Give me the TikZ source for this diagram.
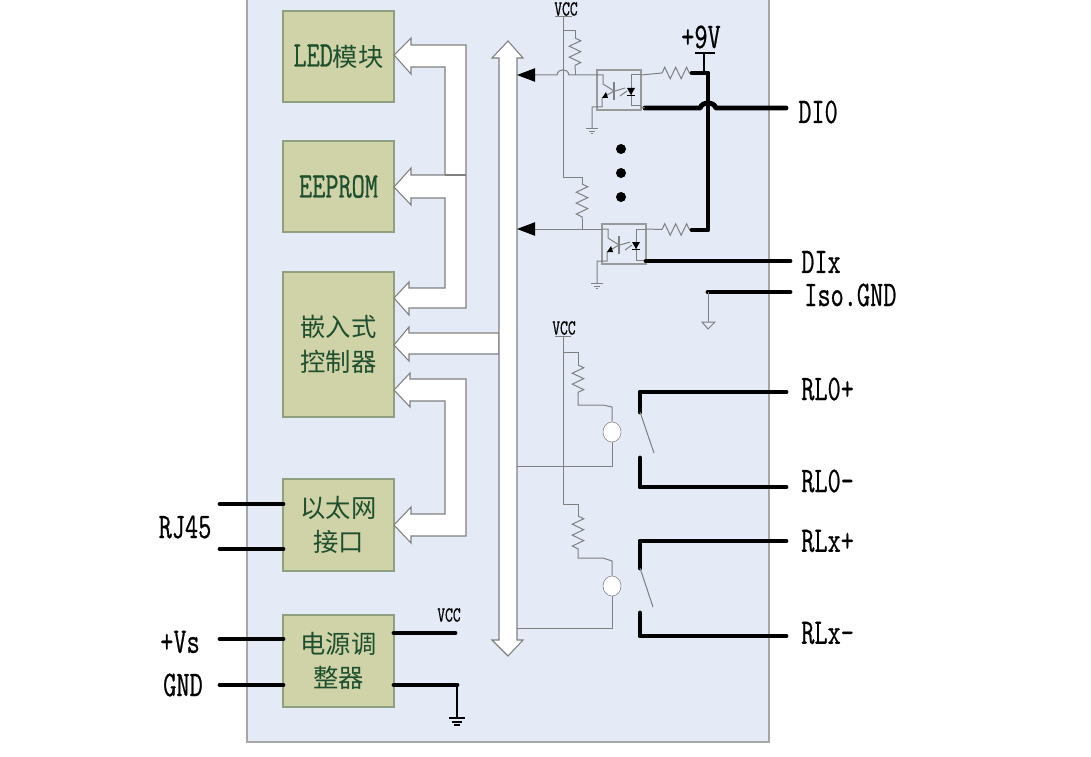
\documentclass[tikz,border=0pt]{standalone}
\usepackage{fontspec}
\setmainfont[FakeStretch=0.71,FakeBold=0.6]{Latin Modern Mono}
\newfontfamily\cjkfont{Noto Sans CJK SC}
\usetikzlibrary{arrows.meta,decorations.pathmorphing,shapes.geometric}
\definecolor{panelcol}{HTML}{E4EAF6}
\definecolor{blockcol}{HTML}{D0D2A8}
\definecolor{blockedge}{HTML}{8FA080}
\definecolor{textgreen}{HTML}{1E4F2E}
\definecolor{wirecol}{HTML}{808080}
\tikzset{
    block/.style={draw=blockedge, line width=0.8pt, fill=blockcol, text=textgreen, minimum width=83.25pt, align=center, inner sep=0pt, font=\fontsize{19}{26}\selectfont},
    wire/.style={draw=wirecol, line width=0.75pt},
    fatwire/.style={draw=black, line width=3.7pt, line cap=round, line join=round},
    busarrow/.style={draw=wirecol, line width=0.8pt, fill=white, line join=miter},
    res/.style={wire, decorate, decoration={zigzag, segment length=8.2pt, amplitude=4.3pt}},
    into/.style={-{Triangle[length=13.5pt, width=10pt, color=black, fill=black]}},
    coil/.style={draw=wirecol, fill=white, ellipse, minimum width=13.5pt, minimum height=15pt, inner sep=0pt},
    biglabel/.style={inner sep=0pt, font=\fontsize{27}{27}\selectfont},
    smalllabel/.style={inner sep=0pt, font=\fontsize{16}{16}\selectfont},
    optobox/.pic={
        \draw[draw=gray!80, line width=0.8pt] (0,0) rectangle (44,40);
        % phototransistor
        \draw[wire] (0,5) -- (6,5) -- (6,14) -- (17,21) -- (5,28) -- (5,37) -- (-5,37) -- (-5,59);
        \draw[wire, line width=1pt] (17,12) -- (17,30);
        \fill (5,28) -- (11,28) -- (9,22) -- cycle;
        % led
        \draw[wire] (44,5) -- (34,5) -- (34,36) -- (44,36);
        \fill (30,18) -- (38,18) -- (34,25) -- cycle;
        \draw[black, line width=0.7pt] (30,25) -- (38,25);
        \draw[wire] (28,18) -- (18,21) (30,21) -- (23,26);
        \draw[wire] (-11,59) -- (1,59) (-8,62) -- (-2,62) (-6,64) -- (-4,64);
        \coordinate (-c) at (0,5);
        \coordinate (-a) at (44,5);
        \coordinate (-k) at (44,37);
    },
}
\begin{document}
\begin{tikzpicture}[x=0.75pt, y=-0.75pt]
    \useasboundingbox (0,0) rectangle (1091,756);
    \draw[draw=gray!70, line width=0.9pt, fill=panelcol] (247,-10) rectangle (769,742);

    % Function blocks
    \node[block, minimum height=68.25pt] (led) at (338.5,56.5) {\fontsize{27}{27}\selectfont LED{\fontsize{19}{26}\selectfont\cjkfont 模块}};
    \node[block, minimum height=68.25pt] (eeprom) at (338.5,186.5) {\fontsize{27}{27}\selectfont EEPROM};
    \node[block, minimum height=108.75pt] (mcu) at (338.5,344.5) {\cjkfont 嵌入式\\ \cjkfont 控制器};
    \node[block, minimum height=69pt] (eth) at (338.5,525) {\cjkfont 以太网\\ \cjkfont 接口};
    \node[block, minimum height=69pt] (power) at (338.5,661) {\cjkfont 电源调\\ \cjkfont 整器};

    % Data paths
    \draw[busarrow] (394,55) -- (411,38) -- (411,45) -- (466,45) -- (466,308) -- (409,308) -- (409,315)
        -- (394,298) -- (409,282) -- (409,288) -- (445,288) -- (445,198) -- (411,198) -- (411,205)
        -- (394,187) -- (411,168) -- (411,175) -- (445,175) -- (445,67) -- (411,67) -- (411,74) -- cycle;
    \draw[busarrow] (445,175) -- (466,175);
    \draw[busarrow] (394,390) -- (410,373) -- (410,379) -- (466,379) -- (466,536) -- (411,536) -- (411,543)
        -- (394,525) -- (411,507) -- (411,514) -- (445,514) -- (445,401) -- (410,401) -- (410,407) -- cycle;
    \draw[busarrow] (394,345) -- (409,327) -- (409,333) -- (499,333) -- (499,354) -- (409,354) -- (409,361) -- cycle;
    \draw[busarrow] (508,41) -- (523,58) -- (517,58) -- (517,640) -- (523,640) -- (508,656) -- (492,640)
        -- (499,640) -- (499,58) -- (492,58) -- cycle;

    % Digital inputs
    \pic (optoa) at (597,70) {optobox};
    \pic (optob) at (602,224) {optobox};
    \coordinate (busa) at (517,75);
    \coordinate (busb) at (517,229);
    \coordinate (rail) at (708,73);
    \node[smalllabel] (vcca) at (566,9) {VCC};
    \draw[wire] (555,17) -- (572,17) (563,17) -- (563,177) -| (582,184);
    \draw[res] (582,184) -- (582,219);
    \draw[wire] (582,219) -- (582,229);
    \draw[wire] (563,31) -| (575,38);
    \draw[res] (575,38) -- (575,70);
    \draw[wire] (575,70) -- (575,75);
    \draw[wire, into] (optoa-c) -- (569,75) .. controls (568,68) and (558,68) .. (557,75) -- (busa);
    \draw[wire, into] (optob-c) -- (busb);
    \draw[wire] (optoa-a) -- (662,73);
    \draw[res] (662,73) -- (692,73);
    \draw[wire] (optob-a) -- (662,229.5);
    \draw[res] (662,229.5) -- (692,229.5);
    \draw[fatwire] (692,73) -- (rail) -- (708,230) -- (692,230);
    \draw[black, line width=1.6pt] (695,53) -- (715,53) (704,53) -- (704,72);
    \coordinate (dioin) at (645,108);
    \draw[fatwire] (dioin) -- (700,108) .. controls (703,101) and (713,101) .. (716,108) -- (786,108);
    \draw[wire] (optoa-k) -- (dioin);
    \draw[fatwire] (optob-k) -- (790,261);
    \fill (621,149) circle (5) (621,173) circle (5) (621,197) circle (5);
    \node[biglabel] (plusnine) at (701,37) {+9V};
    \node[biglabel, anchor=west] (dio) at (798,112) {DI0};
    \node[biglabel, anchor=west] (dix) at (801,262) {DIx};
    \node[biglabel, anchor=west] (isognd) at (804,295) {Iso.GND};
    \draw[fatwire] (708,292) -- (790,292);
    \draw[wire] (708,292) -- (708,322);
    \draw[wire, fill=panelcol] (702,322) -- (715,322) -- (708,329) -- cycle;

    % Relay outputs
    \node[smalllabel] (vccb) at (564,328) {VCC};
    \draw[wire] (555,336) -- (571,336) (563,336) -- (563,504) -| (578,516);
    \draw[wire] (563,352) -| (578,365);
    \draw[res] (578,365) -- (578,395);
    \node[coil] (coila) at (612,432) {};
    \node[coil] (coilb) at (612,586) {};
    \draw[wire] (578,395) -- (578,405) -- (603,405) -- (612,407) -- (coila);
    \draw[res] (578,516) -- (578,549);
    \draw[wire] (578,549) -- (578,558) -- (603,558) -- (612,561) -- (coilb);
    \draw[wire] (coila) |- (517,466);
    \draw[wire] (coilb) |- (517,628);
    \draw[fatwire] (786,392) -- (640,392) -- (640,412);
    \draw[fatwire] (640,458) -- (640,487) -- (786,487);
    \draw[wire] (640,412) -- (654,453);
    \draw[fatwire] (786,541) -- (640,541) -- (640,568);
    \draw[fatwire] (640,613) -- (640,636) -- (786,636);
    \draw[wire] (640,568) -- (653,607);
    \node[biglabel, anchor=west] (rlop) at (801,389) {RL0+};
    \node[biglabel, anchor=west] (rlon) at (801,481) {RL0-};
    \node[biglabel, anchor=west] (rlxp) at (801,541) {RLx+};
    \node[biglabel, anchor=west] (rlxn) at (801,633) {RLx-};

    % Ethernet and power terminals
    \coordinate (ethp) at (220,504);
    \coordinate (ethn) at (220,549);
    \coordinate (vsin) at (220,639);
    \coordinate (gndin) at (220,685);
    \draw[fatwire] (ethp) -- (283,504);
    \draw[fatwire] (ethn) -- (283,549);
    \draw[fatwire] (vsin) -- (283,639);
    \draw[fatwire] (gndin) -- (283,685);
    \draw[fatwire] (394,633) -- (455,633);
    \draw[fatwire] (394,685) -- (457,685);
    \draw[black, line width=1pt] (457,685) -- (457,718) (449,718) -- (465,718) (452,722) -- (462,722) (454,725) -- (460,725);
    \node[biglabel] (rj) at (185,527) {RJ45};
    \node[biglabel] (vs) at (180,642) {+Vs};
    \node[biglabel] (gnd) at (183,685) {GND};
    \node[smalllabel] (vccout) at (449,615) {VCC};
\end{tikzpicture}
\end{document}
